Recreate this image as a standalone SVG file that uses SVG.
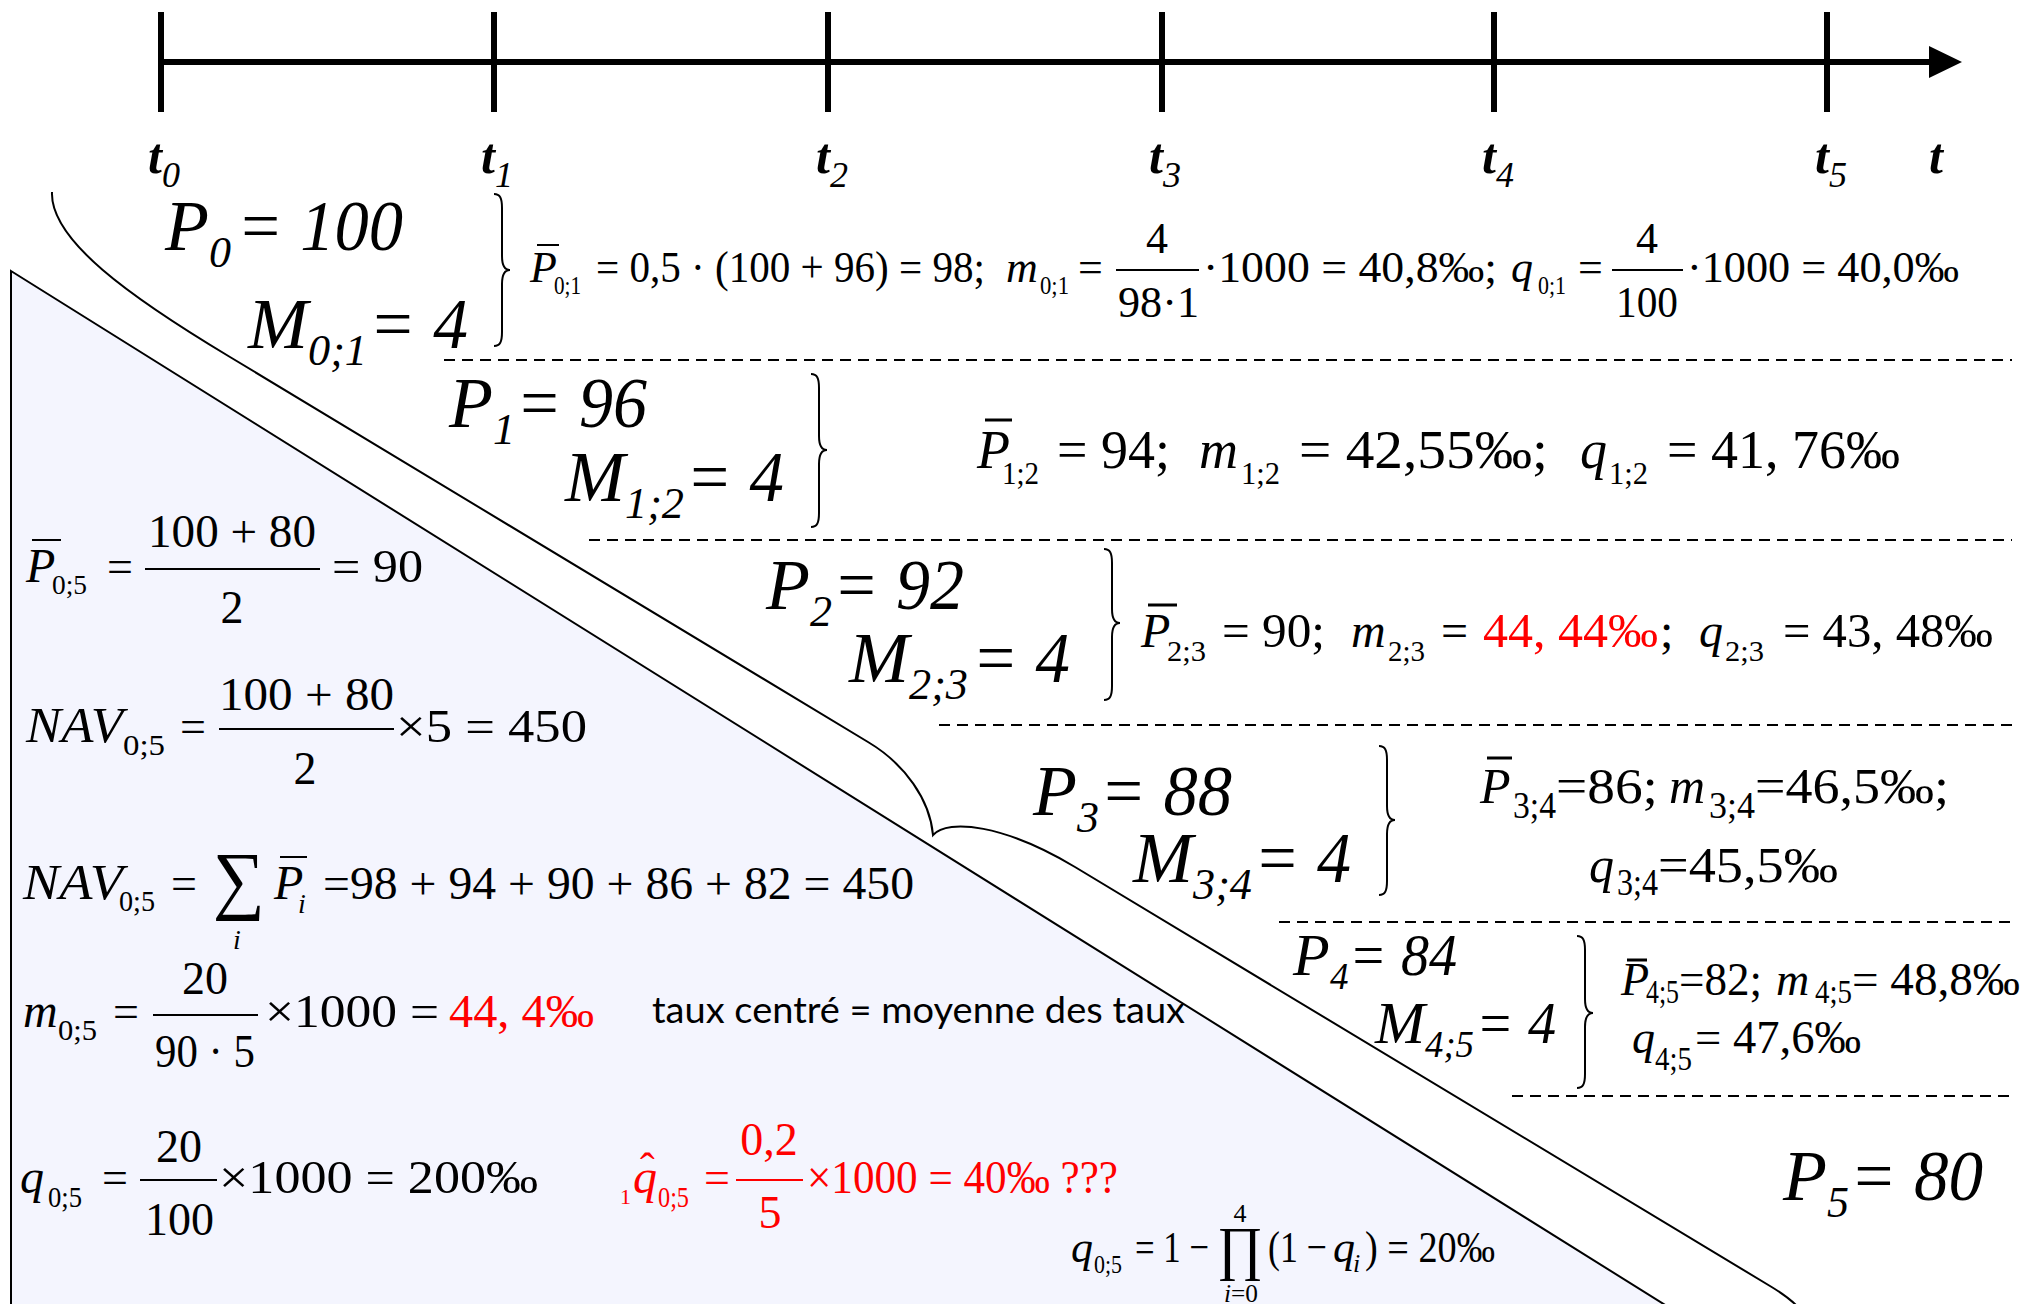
<svg xmlns="http://www.w3.org/2000/svg" width="2024" height="1304" viewBox="0 0 2024 1304">
<rect width="2024" height="1304" fill="#fff"/>
<g id="triangle">
<polygon points="11,271 1670,1308 11,1308" fill="#F4F5FE" stroke="#000" stroke-width="2"/>
</g>
<g id="timeline">
<g stroke="#000" stroke-width="6">
<line x1="158" y1="62" x2="1932" y2="62"/>
<line x1="161" y1="12" x2="161" y2="112"/>
<line x1="494" y1="12" x2="494" y2="112"/>
<line x1="828" y1="12" x2="828" y2="112"/>
<line x1="1162" y1="12" x2="1162" y2="112"/>
<line x1="1494" y1="12" x2="1494" y2="112"/>
<line x1="1827" y1="12" x2="1827" y2="112"/>
</g>
<polygon points="1929,46 1962,62 1929,78" fill="#000"/>
<g font-family="Liberation Serif" font-style="italic" fill="#000">
<text font-family="Liberation Serif" font-style="italic" font-weight="bold" x="148" y="173" font-size="50">t</text><text font-family="Liberation Serif" font-style="italic" x="162" y="187" font-size="36">0</text>
<text font-family="Liberation Serif" font-style="italic" font-weight="bold" x="481" y="173" font-size="50">t</text><text font-family="Liberation Serif" font-style="italic" x="495" y="187" font-size="36">1</text>
<text font-family="Liberation Serif" font-style="italic" font-weight="bold" x="816" y="173" font-size="50">t</text><text font-family="Liberation Serif" font-style="italic" x="830" y="187" font-size="36">2</text>
<text font-family="Liberation Serif" font-style="italic" font-weight="bold" x="1149" y="173" font-size="50">t</text><text font-family="Liberation Serif" font-style="italic" x="1163" y="187" font-size="36">3</text>
<text font-family="Liberation Serif" font-style="italic" font-weight="bold" x="1482" y="173" font-size="50">t</text><text font-family="Liberation Serif" font-style="italic" x="1496" y="187" font-size="36">4</text>
<text font-family="Liberation Serif" font-style="italic" font-weight="bold" x="1815" y="173" font-size="50">t</text><text font-family="Liberation Serif" font-style="italic" x="1829" y="187" font-size="36">5</text>
<text font-family="Liberation Serif" font-style="italic" font-weight="bold" x="1929" y="173" font-size="50">t</text>
</g>
</g>
<g id="connectors" fill="none" stroke="#000" stroke-width="2">
<path d="M52,192 C50,240 130,297 230,357 L868,742 C905,764 930,800 933,835 C948,818 1005,825 1075,867 L1770,1286 C1785,1295 1795,1302 1802,1312"/>
<g stroke-dasharray="11 7">
<line x1="444" y1="360" x2="2012" y2="360"/>
<line x1="589" y1="540" x2="2012" y2="540"/>
<line x1="939" y1="725" x2="2012" y2="725"/>
<line x1="1279" y1="922" x2="2012" y2="922"/>
<line x1="1512" y1="1096" x2="2012" y2="1096"/>
</g>
<path d="M494,194 C500,194 502,198 502,208 L502,256 C502,266 505,270 510,270 C505,270 502,274 502,284 L502,332 C502,342 500,346 494,346"/>
<path d="M811,374 C817,374 819,378 819,388 L819,436 C819,446 822,450 827,450 C822,450 819,454 819,464 L819,513 C819,523 817,527 811,527"/>
<path d="M1104,549 C1110,549 1112,553 1112,563 L1112,609 C1112,619 1115,623 1120,623 C1115,623 1112,627 1112,637 L1112,686 C1112,696 1110,700 1104,700"/>
<path d="M1379,746 C1385,746 1387,750 1387,760 L1387,806 C1387,816 1390,820 1395,820 C1390,820 1387,824 1387,834 L1387,881 C1387,891 1385,895 1379,895"/>
<path d="M1577,936 C1583,936 1585,940 1585,950 L1585,999 C1585,1009 1588,1013 1593,1013 C1588,1013 1585,1017 1585,1027 L1585,1074 C1585,1084 1583,1088 1577,1088"/>
</g>
<g id="labels" font-family="Liberation Serif" font-style="italic" fill="#000">
<g id="label-p0"><text font-family="Liberation Serif" font-style="italic" font-size="72" x="165" y="250">P</text><text font-family="Liberation Serif" font-style="italic" font-size="44" x="209" y="267">0</text><text font-family="Liberation Serif" font-style="italic" font-size="72" x="237" y="250" textLength="166" lengthAdjust="spacingAndGlyphs">= 100</text></g>
<g id="label-m01"><text font-family="Liberation Serif" font-style="italic" font-size="72" x="248" y="348">M</text><text font-family="Liberation Serif" font-style="italic" font-size="44" x="308" y="365" textLength="59" lengthAdjust="spacingAndGlyphs">0;1</text><text font-family="Liberation Serif" font-style="italic" font-size="72" x="369" y="348" textLength="99" lengthAdjust="spacingAndGlyphs">= 4</text></g>
<g id="label-p1"><text font-family="Liberation Serif" font-style="italic" font-size="72" x="449" y="427">P</text><text font-family="Liberation Serif" font-style="italic" font-size="44" x="493" y="444">1</text><text font-family="Liberation Serif" font-style="italic" font-size="72" x="516" y="427" textLength="131" lengthAdjust="spacingAndGlyphs">= 96</text></g>
<g id="label-m12"><text font-family="Liberation Serif" font-style="italic" font-size="72" x="565" y="501">M</text><text font-family="Liberation Serif" font-style="italic" font-size="44" x="625" y="518" textLength="59" lengthAdjust="spacingAndGlyphs">1;2</text><text font-family="Liberation Serif" font-style="italic" font-size="72" x="686" y="501" textLength="98" lengthAdjust="spacingAndGlyphs">= 4</text></g>
<g id="label-p2"><text font-family="Liberation Serif" font-style="italic" font-size="72" x="766" y="609">P</text><text font-family="Liberation Serif" font-style="italic" font-size="44" x="810" y="626">2</text><text font-family="Liberation Serif" font-style="italic" font-size="72" x="833" y="609" textLength="131" lengthAdjust="spacingAndGlyphs">= 92</text></g>
<g id="label-m23"><text font-family="Liberation Serif" font-style="italic" font-size="72" x="849" y="682">M</text><text font-family="Liberation Serif" font-style="italic" font-size="44" x="909" y="699" textLength="59" lengthAdjust="spacingAndGlyphs">2;3</text><text font-family="Liberation Serif" font-style="italic" font-size="72" x="972" y="682" textLength="98" lengthAdjust="spacingAndGlyphs">= 4</text></g>
<g id="label-p3"><text font-family="Liberation Serif" font-style="italic" font-size="72" x="1033" y="815">P</text><text font-family="Liberation Serif" font-style="italic" font-size="44" x="1077" y="832">3</text><text font-family="Liberation Serif" font-style="italic" font-size="72" x="1100" y="815" textLength="132" lengthAdjust="spacingAndGlyphs">= 88</text></g>
<g id="label-m34"><text font-family="Liberation Serif" font-style="italic" font-size="72" x="1133" y="882">M</text><text font-family="Liberation Serif" font-style="italic" font-size="44" x="1193" y="899" textLength="59" lengthAdjust="spacingAndGlyphs">3;4</text><text font-family="Liberation Serif" font-style="italic" font-size="72" x="1254" y="882" textLength="97" lengthAdjust="spacingAndGlyphs">= 4</text></g>
<g id="label-p4"><text font-family="Liberation Serif" font-style="italic" font-size="60" x="1293" y="975">P</text><text font-family="Liberation Serif" font-style="italic" font-size="37" x="1330" y="989">4</text><text font-family="Liberation Serif" font-style="italic" font-size="60" x="1349" y="975" textLength="108" lengthAdjust="spacingAndGlyphs">= 84</text></g>
<g id="label-m45"><text font-family="Liberation Serif" font-style="italic" font-size="60" x="1375" y="1043">M</text><text font-family="Liberation Serif" font-style="italic" font-size="37" x="1425" y="1057" textLength="49" lengthAdjust="spacingAndGlyphs">4;5</text><text font-family="Liberation Serif" font-style="italic" font-size="60" x="1476" y="1043" textLength="80" lengthAdjust="spacingAndGlyphs">= 4</text></g>
<g id="label-p5"><text font-family="Liberation Serif" font-style="italic" font-size="72" x="1783" y="1200">P</text><text font-family="Liberation Serif" font-style="italic" font-size="44" x="1827" y="1217">5</text><text font-family="Liberation Serif" font-style="italic" font-size="72" x="1850" y="1200" textLength="133" lengthAdjust="spacingAndGlyphs">= 80</text></g>
</g>
<g id="formulas" font-family="Liberation Serif" fill="#000">
<g id="formula-01">
<text font-family="Liberation Serif" font-style="italic" x="530" y="282" font-size="44">P</text>
<line x1="537" y1="245" x2="559" y2="245" stroke="#000" stroke-width="2"/>
<text font-family="Liberation Serif" x="554" y="294" font-size="26" textLength="27" lengthAdjust="spacingAndGlyphs">0;1</text>
<text font-family="Liberation Serif" x="596" y="282" font-size="44" textLength="389" lengthAdjust="spacingAndGlyphs">= 0,5 · (100 + 96) = 98;</text>
<text font-family="Liberation Serif" font-style="italic" x="1006" y="282" font-size="44">m</text>
<text font-family="Liberation Serif" x="1040" y="294" font-size="26" textLength="29" lengthAdjust="spacingAndGlyphs">0;1</text>
<text font-family="Liberation Serif" x="1078" y="282" font-size="44">=</text>
<line x1="1116" y1="270" x2="1199" y2="270" stroke="#000" stroke-width="2"/>
<text font-family="Liberation Serif" text-anchor="middle" x="1157" y="253" font-size="44">4</text>
<text font-family="Liberation Serif" x="1118" y="317" font-size="44" textLength="81" lengthAdjust="spacingAndGlyphs">98·1</text>
<text font-family="Liberation Serif" x="1203" y="282" font-size="44" textLength="294" lengthAdjust="spacingAndGlyphs">·1000 = 40,8‰;</text>
<text font-family="Liberation Serif" font-style="italic" x="1511" y="282" font-size="44">q</text>
<text font-family="Liberation Serif" x="1538" y="294" font-size="26" textLength="28" lengthAdjust="spacingAndGlyphs">0;1</text>
<text font-family="Liberation Serif" x="1578" y="282" font-size="44">=</text>
<line x1="1612" y1="270" x2="1683" y2="270" stroke="#000" stroke-width="2"/>
<text font-family="Liberation Serif" text-anchor="middle" x="1647" y="253" font-size="44">4</text>
<text font-family="Liberation Serif" x="1616" y="317" font-size="44" textLength="62" lengthAdjust="spacingAndGlyphs">100</text>
<text font-family="Liberation Serif" x="1687" y="282" font-size="44" textLength="272" lengthAdjust="spacingAndGlyphs">·1000 = 40,0‰</text>
</g>
<g id="formula-12">
<text font-family="Liberation Serif" font-style="italic" x="977" y="468" font-size="54">P</text>
<line x1="985" y1="420" x2="1012" y2="420" stroke="#000" stroke-width="3"/>
<text font-family="Liberation Serif" x="1002" y="484" font-size="32" textLength="37" lengthAdjust="spacingAndGlyphs">1;2</text>
<text font-family="Liberation Serif" x="1057" y="468" font-size="54" textLength="113" lengthAdjust="spacingAndGlyphs">= 94;</text>
<text font-family="Liberation Serif" font-style="italic" x="1199" y="468" font-size="54">m</text>
<text font-family="Liberation Serif" x="1241" y="484" font-size="32" textLength="39" lengthAdjust="spacingAndGlyphs">1;2</text>
<text font-family="Liberation Serif" x="1299" y="468" font-size="54" textLength="249" lengthAdjust="spacingAndGlyphs">= 42,55‰;</text>
<text font-family="Liberation Serif" font-style="italic" x="1580" y="468" font-size="54">q</text>
<text font-family="Liberation Serif" x="1609" y="484" font-size="32" textLength="39" lengthAdjust="spacingAndGlyphs">1;2</text>
<text font-family="Liberation Serif" x="1667" y="468" font-size="54" textLength="233" lengthAdjust="spacingAndGlyphs">= 41, 76‰</text>
</g>
<g id="formula-23">
<text font-family="Liberation Serif" font-style="italic" x="1141" y="647" font-size="48">P</text>
<line x1="1148" y1="605" x2="1177" y2="605" stroke="#000" stroke-width="3"/>
<text font-family="Liberation Serif" x="1167" y="661" font-size="30" textLength="39" lengthAdjust="spacingAndGlyphs">2;3</text>
<text font-family="Liberation Serif" x="1222" y="647" font-size="48" textLength="103" lengthAdjust="spacingAndGlyphs">= 90;</text>
<text font-family="Liberation Serif" font-style="italic" x="1351" y="647" font-size="48">m</text>
<text font-family="Liberation Serif" x="1388" y="661" font-size="30" textLength="37" lengthAdjust="spacingAndGlyphs">2;3</text>
<text font-family="Liberation Serif" x="1441" y="647" font-size="48">=</text>
<text font-family="Liberation Serif" fill="#f00" x="1483" y="647" font-size="48" textLength="175" lengthAdjust="spacingAndGlyphs">44, 44‰</text>
<text font-family="Liberation Serif" x="1660" y="647" font-size="48">;</text>
<text font-family="Liberation Serif" font-style="italic" x="1699" y="647" font-size="48">q</text>
<text font-family="Liberation Serif" x="1725" y="661" font-size="30" textLength="39" lengthAdjust="spacingAndGlyphs">2;3</text>
<text font-family="Liberation Serif" x="1783" y="647" font-size="48" textLength="210" lengthAdjust="spacingAndGlyphs">= 43, 48‰</text>
</g>
<g id="formula-34">
<text font-family="Liberation Serif" font-style="italic" x="1480" y="803" font-size="50">P</text>
<line x1="1487" y1="758" x2="1512" y2="758" stroke="#000" stroke-width="3"/>
<text font-family="Liberation Serif" x="1513" y="818" font-size="38" textLength="43" lengthAdjust="spacingAndGlyphs">3;4</text>
<text font-family="Liberation Serif" x="1556" y="803" font-size="50" textLength="102" lengthAdjust="spacingAndGlyphs">=86;</text>
<text font-family="Liberation Serif" font-style="italic" x="1669" y="803" font-size="50">m</text>
<text font-family="Liberation Serif" x="1709" y="818" font-size="38" textLength="46" lengthAdjust="spacingAndGlyphs">3;4</text>
<text font-family="Liberation Serif" x="1755" y="803" font-size="50" textLength="194" lengthAdjust="spacingAndGlyphs">=46,5‰;</text>
<text font-family="Liberation Serif" font-style="italic" x="1589" y="882" font-size="50">q</text>
<text font-family="Liberation Serif" x="1617" y="895" font-size="38" textLength="41" lengthAdjust="spacingAndGlyphs">3;4</text>
<text font-family="Liberation Serif" x="1658" y="882" font-size="50" textLength="180" lengthAdjust="spacingAndGlyphs">=45,5‰</text>
</g>
<g id="formula-45">
<text font-family="Liberation Serif" font-style="italic" x="1621" y="995" font-size="46">P</text>
<line x1="1627" y1="960" x2="1647" y2="960" stroke="#000" stroke-width="3"/>
<text font-family="Liberation Serif" x="1646" y="1003" font-size="34" textLength="33" lengthAdjust="spacingAndGlyphs">4;5</text>
<text font-family="Liberation Serif" x="1679" y="995" font-size="46" textLength="83" lengthAdjust="spacingAndGlyphs">=82;</text>
<text font-family="Liberation Serif" font-style="italic" x="1776" y="995" font-size="46">m</text>
<text font-family="Liberation Serif" x="1815" y="1003" font-size="34" textLength="37" lengthAdjust="spacingAndGlyphs">4;5</text>
<text font-family="Liberation Serif" x="1852" y="995" font-size="46" textLength="168" lengthAdjust="spacingAndGlyphs">= 48,8‰</text>
<text font-family="Liberation Serif" font-style="italic" x="1632" y="1053" font-size="46">q</text>
<text font-family="Liberation Serif" x="1655" y="1070" font-size="34" textLength="37" lengthAdjust="spacingAndGlyphs">4;5</text>
<text font-family="Liberation Serif" x="1695" y="1053" font-size="46" textLength="166" lengthAdjust="spacingAndGlyphs">= 47,6‰</text>
</g>
<g id="formula-mean">
<text font-family="Liberation Serif" font-style="italic" x="26" y="582" font-size="48">P</text>
<line x1="32" y1="540" x2="61" y2="540" stroke="#000" stroke-width="2"/>
<text font-family="Liberation Serif" x="52" y="594" font-size="28" textLength="35" lengthAdjust="spacingAndGlyphs">0;5</text>
<text font-family="Liberation Serif" x="107" y="582" font-size="46">=</text>
<line x1="145" y1="569" x2="320" y2="569" stroke="#000" stroke-width="2"/>
<text font-family="Liberation Serif" x="148" y="547" font-size="46" textLength="168" lengthAdjust="spacingAndGlyphs">100 + 80</text>
<text font-family="Liberation Serif" text-anchor="middle" x="232" y="623" font-size="46">2</text>
<text font-family="Liberation Serif" x="332" y="582" font-size="46" textLength="91" lengthAdjust="spacingAndGlyphs">= 90</text>
</g>
<g id="formula-nav1">
<text font-family="Liberation Serif" font-style="italic" x="26" y="742" font-size="50" textLength="97" lengthAdjust="spacingAndGlyphs">NAV</text>
<text font-family="Liberation Serif" x="123" y="755" font-size="30" textLength="42" lengthAdjust="spacingAndGlyphs">0;5</text>
<text font-family="Liberation Serif" x="180" y="742" font-size="46">=</text>
<line x1="219" y1="729" x2="394" y2="729" stroke="#000" stroke-width="2"/>
<text font-family="Liberation Serif" x="219" y="710" font-size="46" textLength="175" lengthAdjust="spacingAndGlyphs">100 + 80</text>
<text font-family="Liberation Serif" text-anchor="middle" x="305" y="784" font-size="46">2</text>
<text font-family="Liberation Serif" x="396" y="742" font-size="46" textLength="191" lengthAdjust="spacingAndGlyphs">×5 = 450</text>
</g>
<g id="formula-nav2">
<text font-family="Liberation Serif" font-style="italic" x="23" y="899" font-size="50" textLength="100" lengthAdjust="spacingAndGlyphs">NAV</text>
<text font-family="Liberation Serif" x="119" y="911" font-size="30" textLength="36" lengthAdjust="spacingAndGlyphs">0;5</text>
<text font-family="Liberation Serif" x="171" y="899" font-size="46">=</text>
<text font-family="Liberation Serif" x="213" y="905" font-size="76" textLength="52" lengthAdjust="spacingAndGlyphs">∑</text>
<text font-family="Liberation Serif" font-style="italic" text-anchor="middle" x="237" y="949" font-size="28">i</text>
<text font-family="Liberation Serif" font-style="italic" x="274" y="899" font-size="48">P</text>
<line x1="280" y1="857" x2="307" y2="857" stroke="#000" stroke-width="2"/>
<text font-family="Liberation Serif" font-style="italic" x="298" y="913" font-size="28">i</text>
<text font-family="Liberation Serif" x="323" y="899" font-size="46" textLength="591" lengthAdjust="spacingAndGlyphs">=98 + 94 + 90 + 86 + 82 = 450</text>
</g>
<g id="formula-m05">
<text font-family="Liberation Serif" font-style="italic" x="23" y="1027" font-size="48">m</text>
<text font-family="Liberation Serif" x="58" y="1040" font-size="30" textLength="39" lengthAdjust="spacingAndGlyphs">0;5</text>
<text font-family="Liberation Serif" x="113" y="1027" font-size="46">=</text>
<line x1="153" y1="1015" x2="258" y2="1015" stroke="#000" stroke-width="2"/>
<text font-family="Liberation Serif" text-anchor="middle" x="205" y="994" font-size="46">20</text>
<text font-family="Liberation Serif" x="155" y="1067" font-size="46" textLength="100" lengthAdjust="spacingAndGlyphs">90 · 5</text>
<text font-family="Liberation Serif" x="265" y="1027" font-size="46" textLength="174" lengthAdjust="spacingAndGlyphs">×1000 =</text>
<text font-family="Liberation Serif" fill="#f00" x="449" y="1027" font-size="46" textLength="145" lengthAdjust="spacingAndGlyphs">44, 4‰</text>
<text font-family="Lato" x="652" y="1023" font-size="37" textLength="533" lengthAdjust="spacingAndGlyphs">taux centré = moyenne des taux</text>
</g>
<g id="formula-q05">
<text font-family="Liberation Serif" font-style="italic" x="20" y="1193" font-size="48">q</text>
<text font-family="Liberation Serif" x="48" y="1207" font-size="30" textLength="34" lengthAdjust="spacingAndGlyphs">0;5</text>
<text font-family="Liberation Serif" x="102" y="1193" font-size="46">=</text>
<line x1="140" y1="1180" x2="217" y2="1180" stroke="#000" stroke-width="2"/>
<text font-family="Liberation Serif" text-anchor="middle" x="179" y="1162" font-size="46">20</text>
<text font-family="Liberation Serif" x="145" y="1235" font-size="46" textLength="69" lengthAdjust="spacingAndGlyphs">100</text>
<text font-family="Liberation Serif" x="219" y="1193" font-size="46" textLength="319" lengthAdjust="spacingAndGlyphs">×1000 = 200‰</text>
</g>
<g id="formula-qhat" fill="#f00">
<text font-family="Liberation Serif" fill="#f00" x="620" y="1204" font-size="22">1</text>
<text font-family="Liberation Serif" fill="#f00" font-style="italic" x="633" y="1193" font-size="48">q</text>
<text font-family="Liberation Serif" fill="#f00" x="640" y="1183" font-size="44">ˆ</text>
<text font-family="Liberation Serif" fill="#f00" x="658" y="1207" font-size="30" textLength="31" lengthAdjust="spacingAndGlyphs">0;5</text>
<text font-family="Liberation Serif" fill="#f00" x="704" y="1193" font-size="46">=</text>
<line x1="736" y1="1180" x2="803" y2="1180" stroke="#f00" stroke-width="2"/>
<text font-family="Liberation Serif" fill="#f00" text-anchor="middle" x="769" y="1155" font-size="46">0,2</text>
<text font-family="Liberation Serif" fill="#f00" text-anchor="middle" x="770" y="1228" font-size="46">5</text>
<text font-family="Liberation Serif" fill="#f00" x="807" y="1193" font-size="46" textLength="311" lengthAdjust="spacingAndGlyphs">×1000 = 40‰ ???</text>
</g>
<g id="formula-prod">
<text font-family="Liberation Serif" font-style="italic" x="1071" y="1262" font-size="44">q</text>
<text font-family="Liberation Serif" x="1094" y="1273" font-size="26" textLength="28" lengthAdjust="spacingAndGlyphs">0;5</text>
<text font-family="Liberation Serif" x="1135" y="1262" font-size="44" textLength="74" lengthAdjust="spacingAndGlyphs">= 1 −</text>
<text font-family="Liberation Serif" x="1217" y="1268" font-size="60" textLength="46" lengthAdjust="spacingAndGlyphs">∏</text>
<text font-family="Liberation Serif" text-anchor="middle" x="1240" y="1222" font-size="26">4</text>
<text font-family="Liberation Serif" x="1224" y="1302" font-size="26" textLength="34" lengthAdjust="spacingAndGlyphs"><tspan font-style="italic">i</tspan>=0</text>
<text font-family="Liberation Serif" x="1268" y="1262" font-size="44" textLength="59" lengthAdjust="spacingAndGlyphs">(1 −</text>
<text font-family="Liberation Serif" font-style="italic" x="1333" y="1262" font-size="44">q</text>
<text font-family="Liberation Serif" font-style="italic" x="1353" y="1272" font-size="26">i</text>
<text font-family="Liberation Serif" x="1365" y="1262" font-size="44" textLength="130" lengthAdjust="spacingAndGlyphs">) = 20‰</text>
</g>
</g>
</svg>
